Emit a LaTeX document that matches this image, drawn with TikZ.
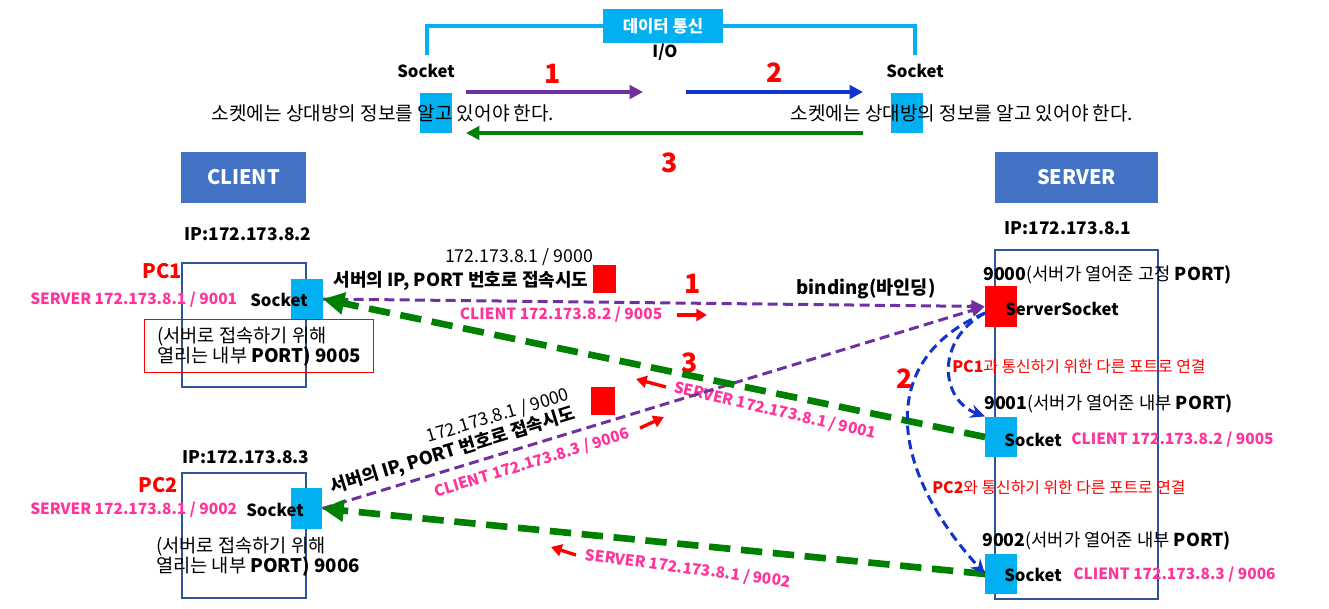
\documentclass[tikz,border=0pt]{standalone}
\usepackage{fontspec}
\setmainfont{Noto Sans CJK KR}
\usetikzlibrary{arrows.meta}
\definecolor{skyblue}{RGB}{0,176,240}
\definecolor{boxblue}{RGB}{68,114,196}
\definecolor{pcframe}{RGB}{47,85,151}
\definecolor{linkpurple}{RGB}{112,48,160}
\definecolor{linkblue}{RGB}{16,52,204}
\definecolor{linkgreen}{RGB}{0,128,0}
\definecolor{addrpink}{RGB}{255,51,153}
\begin{document}
\begin{tikzpicture}[x=0.75pt,y=-0.75pt,
        every node/.style={inner sep=0pt, font=\fontsize{13.3}{15}\selectfont},
        bold/.style={font=\bfseries\fontsize{12.5}{15}\selectfont},
        sock/.style={fill=skyblue, minimum width=23.5pt, minimum height=30.5pt},
        redsq/.style={fill=red, minimum width=17.5pt, minimum height=21pt},
        titlebox/.style={fill=boxblue, text=white, font=\bfseries\fontsize{15}{18}\selectfont, minimum height=38pt},
        pcbox/.style={draw=pcframe, line width=1.2pt, minimum width=93pt},
        pink/.style={text=addrpink, font=\bfseries\fontsize{11.6}{13}\selectfont},
        num/.style={text=red, font=\bfseries\fontsize{20}{22}\selectfont},
        pclabel/.style={text=red, font=\bfseries\fontsize{15}{18}\selectfont},
        note/.style={text=red, font=\fontsize{11.9}{13}\selectfont},
        porttext/.style={align=left, anchor=west, font=\fontsize{14}{15}\selectfont},
        trytext/.style={font=\bfseries\fontsize{13.5}{15}\selectfont},
        toparrow/.style={line width=3pt, -{Triangle[length=10pt,width=10pt]}},
        smallarrow/.style={red, line width=2.5pt, -{Triangle[length=8pt,width=9pt]}},
        tryline/.style={linkpurple, line width=2.25pt, dash pattern=on 7.5pt off 4pt, -{Triangle[length=10pt,width=9pt]}},
        backline/.style={linkgreen, line width=5pt, dash pattern=on 16pt off 8pt, -{Triangle[length=16pt,width=16pt]}},
        portline/.style={linkblue, line width=2.25pt, dash pattern=on 7pt off 4pt, -{Stealth[length=11pt,width=10pt]}},
    ]
    \useasboundingbox (0,0) rectangle (1329,608);
    % top: data exchange between two sockets
    \node[fill=skyblue, text=white, font=\bfseries\fontsize{12.5}{15}\selectfont, minimum width=90pt, minimum height=25.5pt] (datalbl) at (663,26) {데이터 통신};
    \node[bold] (io) at (665,52) {I/O};
    \node[bold] (sockLlbl) at (426,71) {Socket};
    \node[bold] (sockRlbl) at (915,71) {Socket};
    \coordinate (brL) at (427,55);
    \coordinate (brR) at (915,55);
    \draw[skyblue, line width=3pt] (brL) |- (datalbl);
    \draw[skyblue, line width=3pt] (datalbl) -| (brR);
    \node[sock] (topsockL) at (436,113) {};
    \node[sock] (topsockR) at (907,113) {};
    \node[font=\fontsize{14.3}{15}\selectfont] (infoL) at (383,113) {소켓에는 상대방의 정보를 알고 있어야 한다.};
    \node[font=\fontsize{14.3}{15}\selectfont] (infoR) at (962,113) {소켓에는 상대방의 정보를 알고 있어야 한다.};
    \node[num] (n1top) at (553,74) {1};
    \node[num] (n2top) at (775,73) {2};
    \node[num] (n3top) at (670,163) {3};
    \coordinate (p1s) at (466,92);
    \coordinate (p1e) at (643,92);
    \coordinate (p2s) at (686,92);
    \coordinate (p2e) at (863,92);
    \coordinate (p3s) at (863,133);
    \coordinate (p3e) at (466,133);
    \draw[toparrow, linkpurple] (p1s) -- (p1e);
    \draw[toparrow, linkblue] (p2s) -- (p2e);
    \draw[toparrow, linkgreen] (p3s) -- (p3e);
    % client side
    \node[titlebox, minimum width=94pt] (client) at (243.5,177.5) {CLIENT};
    \node[bold, font=\bfseries\fontsize{13}{15}\selectfont] (ip1) at (248,234) {IP:172.173.8.2};
    \node[pcbox, minimum height=93pt] (pc1) at (244,325) {};
    \node[draw=red, line width=0.75pt, minimum width=171.75pt, minimum height=39.75pt] (portnote1) at (258.5,345.5) {};
    \node[porttext] (porttext1) at (157,347) {(서버로 접속하기 위해\\열리는 내부 \textbf{PORT) 9005}};
    \node[pclabel] (pc1lbl) at (162,271) {PC1};
    \node[pink, anchor=west] (srv1) at (30,300) {SERVER 172.173.8.1 / 9001};
    \node[sock] (pc1sock) at (307,299) {};
    \node[bold] (pc1socklbl) at (279,300) {Socket};
    \node[bold, font=\bfseries\fontsize{13}{15}\selectfont] (ip3) at (246,457) {IP:172.173.8.3};
    \node[pcbox, minimum height=94pt] (pc2) at (244,535.5) {};
    \node[pclabel] (pc2lbl) at (158,485) {PC2};
    \node[pink, anchor=west] (srv2) at (30,510) {SERVER 172.173.8.1 / 9002};
    \node[sock] (pc2sock) at (306.5,508.5) {};
    \node[bold] (pc2socklbl) at (275,510) {Socket};
    \node[porttext] (porttext2) at (156,557) {(서버로 접속하기 위해\\열리는 내부 \textbf{PORT) 9006}};
    % server side
    \node[titlebox, minimum width=122pt] (server) at (1076.5,177.5) {SERVER};
    \node[bold, font=\bfseries\fontsize{13}{15}\selectfont] (ip2) at (1068,228) {IP:172.173.8.1};
    \node[pcbox, minimum width=122.25pt, minimum height=261.75pt] (srv) at (1076.5,424.5) {};
    \node[anchor=west] (p9000) at (983,275) {\textbf{9000}(서버가 열어준 고정 \textbf{PORT)}};
    \node[redsq, minimum width=24pt, minimum height=30.75pt] (srvsock) at (1001,306.5) {};
    \node[bold] (srvsocklbl) at (1062,309) {ServerSocket};
    \node[note, anchor=west] (note1) at (952,367) {\textbf{PC1}과 통신하기 위한 다른 포트로 연결};
    \node[anchor=west] (p9001) at (984,404) {\textbf{9001}(서버가 열어준 내부 \textbf{PORT)}};
    \node[sock] (s9001) at (1001,437) {};
    \node[bold] (s9001lbl) at (1033,440) {Socket};
    \node[pink, anchor=west] (cli9001) at (1071,440) {CLIENT 172.173.8.2 / 9005};
    \node[note, anchor=west] (note2) at (932,488) {\textbf{PC2}와 통신하기 위한 다른 포트로 연결};
    \node[anchor=west] (p9002) at (982,541) {\textbf{9002}(서버가 열어준 내부 \textbf{PORT)}};
    \node[sock] (s9002) at (1001,574) {};
    \node[bold] (s9002lbl) at (1033,575) {Socket};
    \node[pink, anchor=west] (cli9002) at (1073,575) {CLIENT 172.173.8.3 / 9006};
    % middle labels
    \node (addr1) at (519,257) {172.173.8.1 / 9000};
    \node[trytext] (try1) at (461,281) {서버의 IP, PORT 번호로 접속시도};
    \node[redsq] (sq1) at (604.5,279) {};
    \node[num] (n1) at (693,284) {1};
    \node[pink] (cli1) at (561,315) {CLIENT 172.173.8.2 / 9005};
    \node[bold, font=\bfseries\fontsize{14}{16}\selectfont] (bind) at (866,289) {binding(바인딩)};
    \node[num] (n3) at (690,363) {3};
    \node[num] (n2) at (905,379) {2};
    \node[pink, rotate=-13] (srv9001lbl) at (775,411) {SERVER 172.173.8.1 / 9001};
    \node[redsq] (sq2) at (603,400.5) {};
    \node[rotate=17] (addr2) at (498,416) {172.173.8.1 / 9000};
    \node[trytext, rotate=17] (try2) at (453,451) {서버의 IP, PORT 번호로 접속시도};
    \node[pink, rotate=17] (cli2) at (532,463) {CLIENT 172.173.8.3 / 9006};
    \node[pink, rotate=-7.5] (srv9002lbl) at (688,569) {SERVER 172.173.8.1 / 9002};
    \coordinate (ra1s) at (677,315);
    \coordinate (ra1e) at (707,315);
    \coordinate (ra2s) at (640,428);
    \coordinate (ra2e) at (664,417);
    \coordinate (ra3s) at (666,387);
    \coordinate (ra3e) at (636,379);
    \coordinate (ra4s) at (576,555);
    \coordinate (ra4e) at (551,547);
    \draw[smallarrow] (ra1s) -- (ra1e);
    \draw[smallarrow] (ra2s) -- (ra2e);
    \draw[smallarrow] (ra3s) -- (ra3e);
    \draw[smallarrow] (ra4s) -- (ra4e);
    % connections
    \draw[tryline] (pc1sock.east) -- (srvsock.west);
    \draw[tryline] (pc2sock.east) -- (srvsock.west);
    \draw[backline] (s9001.west) -- (pc1sock.east);
    \draw[backline] (s9002.west) -- (pc2sock.east);
    \coordinate (bstart) at (985,313);
    \draw[portline] (bstart) .. controls (935,340) and (940,400) .. (s9001.north west);
    \draw[portline] (bstart) .. controls (875,360) and (890,470) .. (s9002.west);
\end{tikzpicture}
\end{document}
